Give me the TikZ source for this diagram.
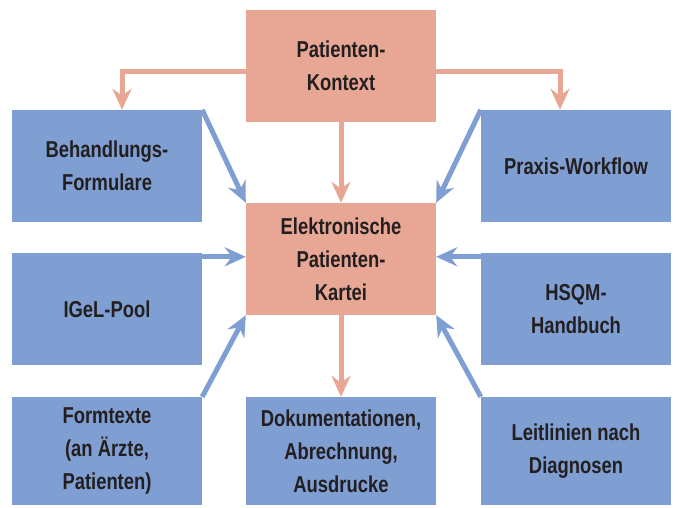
\documentclass[tikz,border=0pt]{standalone}
\usepackage{fontspec}
\setmainfont[FakeStretch=0.8]{Liberation Sans}
\usepackage{xcolor}
\usetikzlibrary{arrows.meta}
\definecolor{kontextcolor}{RGB}{232,166,148}
\definecolor{modulcolor}{RGB}{127,158,210}
\definecolor{textcolor}{RGB}{35,31,32}
\newcommand{\infobox}[4]{
    % Filled Box with Centered Text
    % \infobox{name}{position}{fill color}{text}
    % example:
    %   \infobox{k}{(0,0)}{kontextcolor}{Kontext}
    %   \draw[pinkarrow] (k.south) -- ++(0,-50);
    \node (#1) [infobox,fill=#3] at #2 {#4};
}
\tikzset{
    infobox/.style={minimum width=190pt,minimum height=112pt,inner sep=0pt,
        align=center,text=textcolor,
        font=\fontsize{23}{33}\selectfont\bfseries},
    pinkarrow/.style={draw=kontextcolor,line width=5pt,
        -{Stealth[length=21pt,width=19pt,inset=7pt]}},
    bluearrow/.style={draw=modulcolor,line width=5pt,
        -{Stealth[length=21pt,width=19pt,inset=7pt]}}
}
\begin{document}
\begin{tikzpicture}[x=1pt,y=-1pt]
  \useasboundingbox (0,0) rectangle (678,508);
  % middle column
  \infobox{kontext}{(341,66)}{kontextcolor}{Patienten-\\Kontext}
  \infobox{kartei}{(341,259)}{kontextcolor}{Elektronische\\Patienten-\\Kartei}
  \node (doku) [infobox,fill=modulcolor,minimum height=108pt] at (341,451)
      {Dokumentationen,\\Abrechnung,\\Ausdrucke};
  % left column
  \infobox{formulare}{(107,166)}{modulcolor}{Behandlungs-\\Formulare}
  \infobox{igel}{(107,309)}{modulcolor}{IGeL-Pool}
  \node (formtexte) [infobox,fill=modulcolor,minimum height=108pt] at (107,451)
      {Formtexte\\(an Ärzte,\\Patienten)};
  % right column
  \infobox{workflow}{(576,166)}{modulcolor}{Praxis-Workflow}
  \infobox{hsqm}{(576,309)}{modulcolor}{HSQM-\\Handbuch}
  \node (leitlinien) [infobox,fill=modulcolor,minimum height=108pt] at (576,451)
      {Leitlinien nach\\Diagnosen};

  \draw[pinkarrow] ([yshift=-6pt]kontext.west) -| ([xshift=15pt]formulare.north);
  \draw[pinkarrow] ([yshift=-6pt]kontext.east) -| ([xshift=-16pt]workflow.north);
  \draw[pinkarrow] (kontext.south) -- (kartei.north);
  \draw[pinkarrow] (kartei.south) -- (doku.north);

  \draw[bluearrow] (formulare.north east) -- (kartei.north west);
  \draw[bluearrow] (workflow.north west) -- (kartei.north east);
  \coordinate (igelout) at ([yshift=-4pt]igel.north east);
  \coordinate (hsqmout) at ([yshift=-4pt]hsqm.north west);
  \draw[bluearrow] (igelout) -- (igelout -| kartei.west);
  \draw[bluearrow] (hsqmout) -- (hsqmout -| kartei.east);
  \draw[bluearrow] (formtexte.north east) -- (kartei.south west);
  \draw[bluearrow] (leitlinien.north west) -- (kartei.south east);
\end{tikzpicture}
\end{document}
